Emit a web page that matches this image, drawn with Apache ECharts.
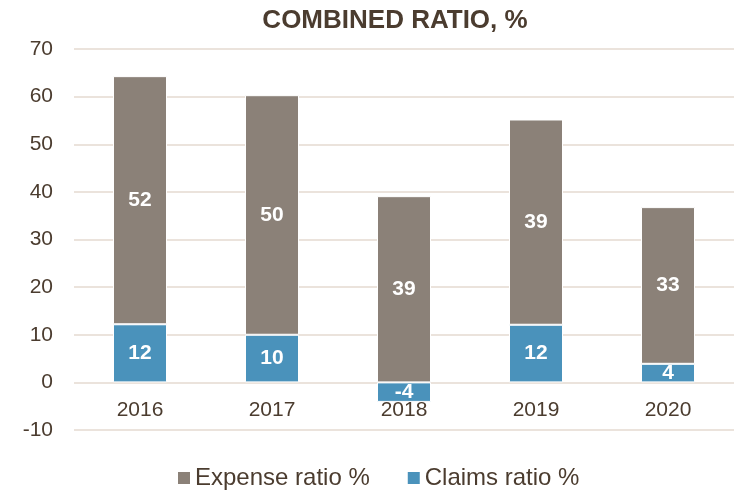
<!DOCTYPE html>
<html>
<head>
<meta charset="utf-8">
<script src="https://cdn.jsdelivr.net/npm/echarts@6/dist/echarts.min.js"></script>
<style>
  html, body { margin: 0; padding: 0; background: #fff; }
  #mainCanvas { width: 738px; height: 490px; }
</style>
</head>
<body>
<div id="mainCanvas"></div>
<script>
var myChart = echarts.init(document.getElementById("mainCanvas"));

var years = ["2016", "2017", "2018", "2019", "2020"];
var claimsRatio = [12.2, 10.0, -4.1, 12.1, 3.9];
var expenseRatio = [52.1, 50.3, 39.1, 43.1, 32.9];
// labels as printed on the chart
var claimsLabels = ["12", "10", "-4", "12", "4"];
var expenseLabels = ["52", "50", "39", "39", "33"];

var textColor = '#4b3c2f';
var font = 'Liberation Sans, Arial, sans-serif';

var option = {
    title: {
        text: 'COMBINED RATIO, %',
        left: 390,
        textAlign: 'center',
        top: 3,
        textStyle: {
            fontFamily: font,
            fontSize: 26,
            fontWeight: 'bold',
            color: textColor
        }
    },
    legend: {
        data: ['Expense ratio %', 'Claims ratio %'],
        top: 461,
        left: 171,
        itemWidth: 14,
        itemHeight: 14,
        itemGap: 36,
        icon: 'rect',
        textStyle: {
            fontFamily: font,
            fontSize: 24,
            color: textColor,
            padding: [0, 0, 0, -1]
        }
    },
    grid: {
        left: 74,
        right: 4,
        top: 49,
        bottom: 60
    },
    xAxis: {
        type: 'category',
        data: years,
        z: 5,
        offset: -47.6,
        axisLine: { show: false },
        axisTick: { show: false },
        axisLabel: {
            margin: 17,
            fontFamily: font,
            fontSize: 21,
            color: textColor
        }
    },
    yAxis: {
        type: 'value',
        min: -10,
        max: 70,
        interval: 10,
        axisLine: { show: false },
        axisTick: { show: false },
        axisLabel: {
            margin: 21,
            fontFamily: font,
            fontSize: 21,
            color: textColor
        },
        splitLine: {
            lineStyle: { color: '#ebe3dc', width: 2 }
        }
    },
    series: [
        {
            name: 'Claims ratio %',
            type: 'bar',
            stack: 'total',
            barWidth: 54,
            data: claimsRatio,
            itemStyle: { color: '#4a92bb', borderColor: '#ffffff', borderWidth: 1 },
            label: {
                show: true,
                position: 'inside',
                formatter: function (p) { return claimsLabels[p.dataIndex]; },
                fontFamily: font,
                fontSize: 21,
                fontWeight: 'bold',
                color: '#fff'
            }
        },
        {
            name: 'Expense ratio %',
            type: 'bar',
            stack: 'total',
            barWidth: 54,
            data: expenseRatio,
            itemStyle: { color: '#8b8178', borderColor: '#ffffff', borderWidth: 1 },
            label: {
                show: true,
                position: 'inside',
                formatter: function (p) { return expenseLabels[p.dataIndex]; },
                fontFamily: font,
                fontSize: 21,
                fontWeight: 'bold',
                color: '#fff'
            }
        }
    ]
};

myChart.setOption(option);
</script>
</body>
</html>
